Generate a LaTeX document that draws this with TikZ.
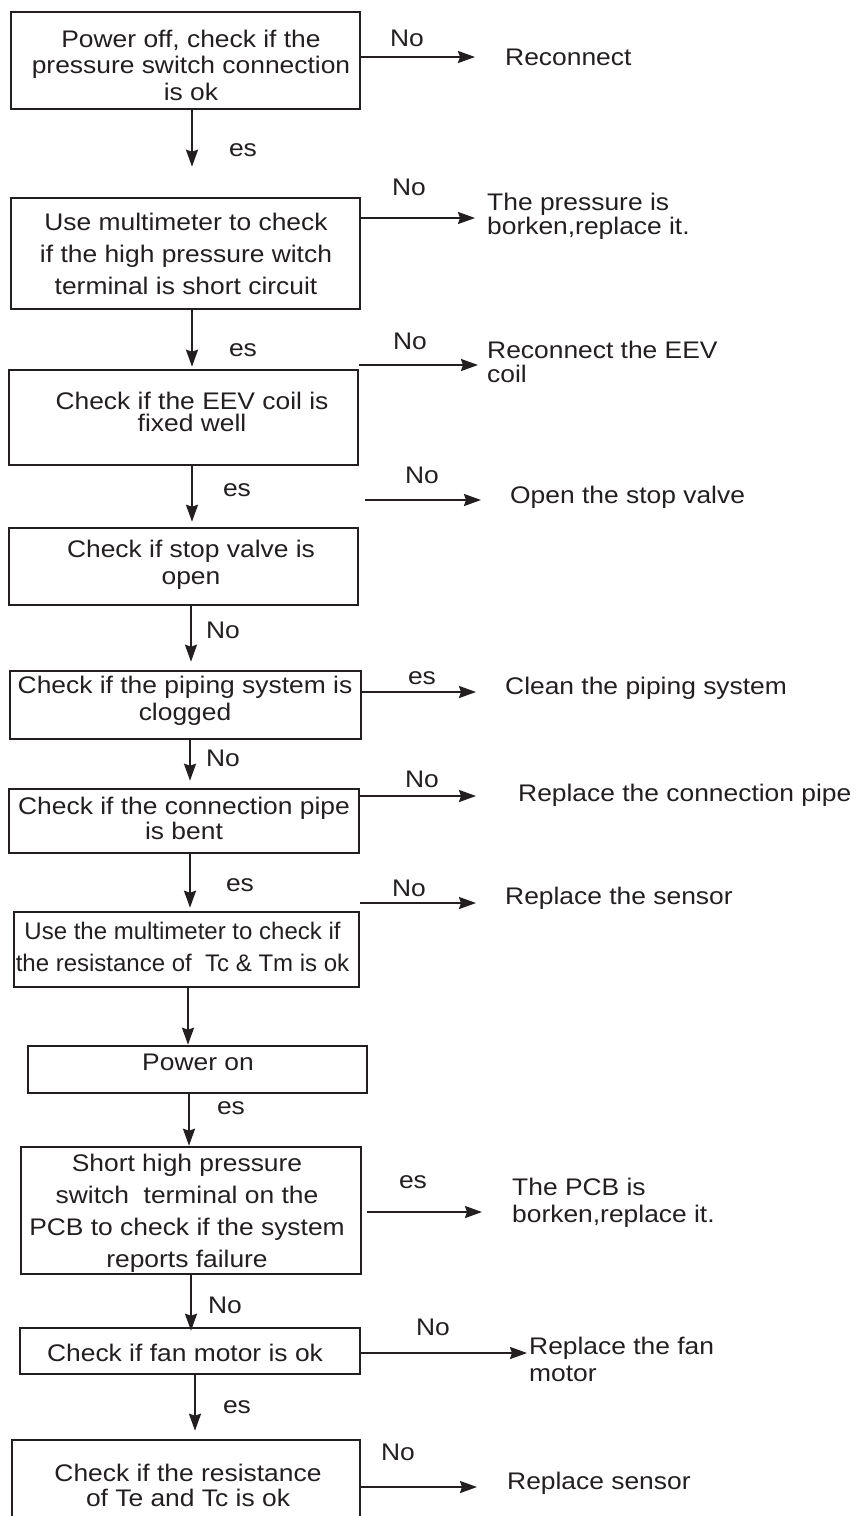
\documentclass[tikz,border=0pt]{standalone}
\usepackage{fontspec}
\setmainfont{Liberation Sans}[FakeStretch=1.1]
\newfontfamily\plainfont{Liberation Sans}
\usetikzlibrary{arrows.meta,fit}
\definecolor{ink}{RGB}{35,31,32}
\tikzset{
  box/.style={draw=ink, line width=2.6pt, inner sep=0pt, fill=none},
  txt/.style={inner sep=0pt, align=center, text=ink, font=\fontsize{24}{26.5}\selectfont},
  rtxt/.style={txt, align=left, anchor=west},
  lbl/.style={inner sep=0pt, text=ink, font=\fontsize{24}{26.5}\selectfont},
  arr/.style={draw=ink, line width=2pt, -{Stealth[length=17pt,width=12pt,inset=2pt]}}
}
\begin{document}
\begin{tikzpicture}[x=1pt,y=-1pt]
\useasboundingbox (0,0) rectangle (858,1516);
\clip (0,0) rectangle (858,1516);
% boxes
\node[box, fit={(11,12) (360,109)}] (b1) {};
\node[box, fit={(11,198) (360,309)}] (b2) {};
\node[box, fit={(9,370) (358,465)}] (b3) {};
\node[box, fit={(9,528) (358,605)}] (b4) {};
\node[box, fit={(10,671) (361,739)}] (b5) {};
\node[box, fit={(9,789) (359,853)}] (b6) {};
\node[box, fit={(14,912) (359,987)}] (b7) {};
\node[box, fit={(28,1046) (367,1093)}] (b8) {};
\node[box, fit={(21,1147) (361,1274)}] (b9) {};
\node[box, fit={(20,1328) (360,1374)}] (b10) {};
\node[box, fit={(12,1440) (360,1560)}] (b11) {};
% box texts
\node[txt] (t1) at (191,65) {Power off, check if the\\pressure switch connection\\is ok};
\node[txt, font=\fontsize{24}{32}\selectfont] (t2) at (186,254) {Use multimeter to check\\if the high pressure witch\\terminal is short circuit};
\node[txt, font=\fontsize{24}{21.5}\selectfont] (t3) at (192,412) {Check if the EEV coil is\\fixed well};
\node[txt] (t4) at (191,565) {Check if stop valve is\\open};
\node[txt] (t5) at (185,701) {Check if the piping system is\\clogged};
\node[txt, font=\fontsize{24}{25}\selectfont] (t6) at (184,818) {Check if the connection pipe\\is bent};
\node[txt, font=\plainfont\fontsize{24}{32}\selectfont] (t7) at (182.5,947) {Use the multimeter to check if\\the resistance of \ Tc \& Tm is ok};
\node[txt] (t8) at (198,1062) {Power on};
\node[txt, font=\fontsize{24}{32}\selectfont] (t9) at (187,1213) {Short high pressure\\switch \ terminal on the\\PCB to check if the system\\reports failure};
\node[txt] (t10) at (185,1353) {Check if fan motor is ok};
\node[txt, font=\fontsize{24}{25}\selectfont] (t11) at (188,1485) {Check if the resistance\\of Te and Tc is ok};
% right texts
\node[rtxt] (r1) at (505,57) {Reconnect};
\node[rtxt, font=\fontsize{24}{24}\selectfont] (r2) at (487,216) {The pressure is\\borken,replace it.};
\node[rtxt, font=\fontsize{24}{24}\selectfont] (r3) at (487,362) {Reconnect the EEV\\coil};
\node[rtxt] (r4) at (510,497) {Open the stop valve};
\node[rtxt] (r5) at (505,688) {Clean the piping system};
\node[rtxt] (r6) at (518,795) {Replace the connection pipe};
\node[rtxt] (r7) at (505,898) {Replace the sensor};
\node[rtxt, font=\fontsize{24}{27}\selectfont] (r9) at (512,1203) {The PCB is\\borken,replace it.};
\node[rtxt, font=\fontsize{24}{27}\selectfont] (r10) at (529,1359) {Replace the fan\\motor};
\node[rtxt] (r11) at (507,1483) {Replace sensor};
% vertical arrows
\draw[arr, shorten >=30pt] ([xshift=6.5pt]b1.south) -- ([xshift=6.5pt]b2.north);
\draw[arr, shorten >=2pt] ([xshift=6.5pt]b2.south) -- ([xshift=8.5pt]b3.north);
\draw[arr, shorten >=5pt] ([xshift=8.5pt]b3.south) -- ([xshift=8.5pt]b4.north);
\draw[arr, shorten >=8pt] ([xshift=7.5pt]b4.south) -- ([xshift=5.5pt]b5.north);
\draw[arr, shorten >=7pt] ([xshift=4.5pt]b5.south) -- ([xshift=6pt]b6.north);
\draw[arr, shorten >=3pt] ([xshift=6pt]b6.south) -- ([xshift=3.5pt]b7.north);
\draw[arr] ([xshift=1.5pt]b7.south) -- ([xshift=-9.5pt]b8.north);
\draw[arr] ([xshift=-8.5pt]b8.south) -- ([xshift=-2pt]b9.north);
\draw[arr, shorten >=-4pt] (b9.south) -- ([xshift=1pt]b10.north);
\draw[arr, shorten >=8pt] ([xshift=5pt]b10.south) -- ([xshift=9pt]b11.north);
% vertical labels
\node[lbl] (l1) at (243,150) {es};
\node[lbl] (l2) at (243,350) {es};
\node[lbl] (l3) at (237,490) {es};
\node[lbl] (l4) at (223,630) {No};
\node[lbl] (l5) at (223,758) {No};
\node[lbl] (l6) at (240,885) {es};
\node[lbl] (l8) at (231,1108) {es};
\node[lbl] (l9) at (225,1305) {No};
\node[lbl] (l10) at (237,1407) {es};
% horizontal arrow ends
\coordinate (e1) at (475,57);
\coordinate (e2) at (475,218);
\coordinate (e3) at (478,365);
\coordinate (e4) at (481,500);
\coordinate (e5) at (476,692);
\coordinate (e6) at (476,796);
\coordinate (e7) at (476,903);
\coordinate (e9) at (482,1212);
\coordinate (e10) at (527,1353);
\coordinate (e11) at (477,1487);
\draw[arr] (b1.east |- e1) -- (e1);
\draw[arr] (b2.east |- e2) -- (e2);
\draw[arr] (b3.east |- e3) -- (e3);
\draw[arr, shorten <=6pt] (b4.east |- e4) -- (e4);
\draw[arr] (b5.east |- e5) -- (e5);
\draw[arr] (b6.east |- e6) -- (e6);
\draw[arr] (b7.east |- e7) -- (e7);
\draw[arr, shorten <=5pt] (b9.east |- e9) -- (e9);
\draw[arr] (b10.east |- e10) -- (e10);
\draw[arr] (b11.east |- e11) -- (e11);
% horizontal labels
\node[lbl] (h1) at (407,38) {No};
\node[lbl] (h2) at (409,187) {No};
\node[lbl] (h3) at (410,341) {No};
\node[lbl] (h4) at (422,475) {No};
\node[lbl] (h5) at (422,678) {es};
\node[lbl] (h6) at (422,779) {No};
\node[lbl] (h7) at (409,888) {No};
\node[lbl] (h9) at (413,1182) {es};
\node[lbl] (h10) at (433,1327) {No};
\node[lbl] (h11) at (398,1452) {No};
\end{tikzpicture}
\end{document}
